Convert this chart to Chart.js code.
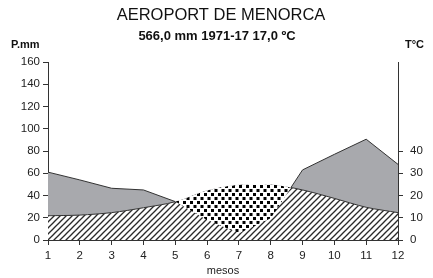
<!DOCTYPE html>
<html>
<head>
<meta charset="utf-8">
<script src="https://cdn.jsdelivr.net/npm/chart.js@4/dist/chart.umd.min.js"></script>
<style>
  html, body { margin: 0; padding: 0; background: #fff; }
  #wrap { width: 433px; height: 278px; }
</style>
</head>
<body>
<div id="wrap"><canvas id="climograma" width="433" height="278"></canvas></div>
<script>
const mesos = [1, 2, 3, 4, 5, 6, 7, 8, 9, 10, 11, 12];
const precipitacio = [61, 54, 46.5, 45, 34.5, 18, 6, 19.5, 63, 77, 90.6, 68];
const temperatura = [10.9, 11.2, 12.3, 14.5, 17.2, 22.2, 24.8, 25, 22.5, 18.7, 14.7, 12.3];
const ticksMm = [0, 20, 40, 60, 80, 100, 120, 140, 160];
const ticksTemp = [0, 10, 20, 30, 40];

const titol = 'AEROPORT DE MENORCA';
const subtitol = '566,0 mm 1971-17 17,0 ºC';

const gris = '#a8a9ad';
const linia = '#333';
const buit = 'rgba(0,0,0,0)';

// trama de ratlles diagonals
const makeHatch = () => {
    const n = 6;
    const c = document.createElement('canvas');
    c.width = n; c.height = n;
    const g = c.getContext('2d');
    g.fillStyle = '#fff';
    g.fillRect(0, 0, n, n);
    g.strokeStyle = '#2a2a2a';
    g.lineWidth = 1.3;
    for (let k = -1; k <= 1; k++) {
        g.beginPath();
        g.moveTo(k * n - 1, n + 1);
        g.lineTo(k * n + n + 1, -1);
        g.stroke();
    }
    return g.createPattern(c, 'repeat');
};

// trama de punts (periode sec)
const makeDots = () => {
    const c = document.createElement('canvas');
    c.width = 7; c.height = 8;
    const g = c.getContext('2d');
    g.fillStyle = '#fff';
    g.fillRect(0, 0, 7, 8);
    g.fillStyle = '#000';
    g.fillRect(1, 1, 3, 3);
    g.fillRect(4.5, 5, 3, 3);
    g.fillRect(-2.5, 5, 3, 3);
    return g.createPattern(c, 'repeat');
};

const hatch = makeHatch();
const dots = makeDots();
const cv = document.getElementById('climograma');
const cx = cv.getContext('2d');

// la linia nomes es veu on la precipitacio supera la temperatura (escala 2:1)
const segColor = (ctx) => {
    const i = ctx.p0DataIndex, j = ctx.p1DataIndex;
    const a = precipitacio[i] - 2 * temperatura[i];
    const b = precipitacio[j] - 2 * temperatura[j];
    if (a >= 0 && b >= 0) return linia;
    if (a < 0 && b < 0) return buit;
    const t = a / (a - b);
    const gr = cx.createLinearGradient(ctx.p0.x, 0, ctx.p1.x, 0);
    if (a >= 0) {
        gr.addColorStop(0, linia); gr.addColorStop(t, linia);
        gr.addColorStop(t, buit); gr.addColorStop(1, buit);
    } else {
        gr.addColorStop(0, buit); gr.addColorStop(t, buit);
        gr.addColorStop(t, linia); gr.addColorStop(1, linia);
    }
    return gr;
};

const textos = {
    id: 'textos',
    afterDraw(chart) {
        const g = chart.ctx;
        g.save();
        g.fillStyle = '#111';
        g.textAlign = 'center';
        g.textBaseline = 'middle';
        g.font = '16.5px "Liberation Sans", Arial, sans-serif';
        g.fillText(titol, 221, 15);
        g.font = 'bold 13px "Liberation Sans", Arial, sans-serif';
        g.fillText(subtitol, 217, 36);
        g.font = 'bold 11px "Liberation Sans", Arial, sans-serif';
        g.textAlign = 'left';
        g.fillText('P.mm', 11, 45);
        g.fillText('T°C', 405, 45);
        g.restore();
    }
};

const tickFont = { family: '"Liberation Sans", Arial, sans-serif', size: 11.5 };

new Chart(cv, {
    type: 'line',
    data: {
        labels: mesos,
        datasets: [
            // linies de contorn
            {
                label: 'Precipitació (línia)',
                data: precipitacio,
                yAxisID: 'y',
                borderWidth: 1,
                pointRadius: 0,
                tension: 0,
                fill: false,
                segment: { borderColor: segColor },
                order: 0
            },
            {
                label: 'Temperatura (línia)',
                data: temperatura,
                yAxisID: 'y1',
                borderWidth: 1,
                pointRadius: 0,
                tension: 0.3,
                fill: false,
                segment: { borderColor: segColor },
                order: 0
            },
            // superfícies
            {
                label: 'Precipitació',
                data: precipitacio,
                yAxisID: 'y',
                borderWidth: 0,
                borderColor: buit,
                pointRadius: 0,
                tension: 0,
                fill: { target: 3, above: gris, below: dots },
                order: 1
            },
            {
                label: 'Temperatura',
                data: temperatura,
                yAxisID: 'y1',
                borderWidth: 0,
                borderColor: buit,
                pointRadius: 0,
                tension: 0.3,
                backgroundColor: hatch,
                fill: 'origin',
                order: 2
            }
        ]
    },
    options: {
        responsive: false,
        animation: false,
        layout: { padding: { top: 62, left: 0, right: 0, bottom: 0 } },
        plugins: { legend: { display: false }, tooltip: { enabled: false } },
        scales: {
            x: {
                type: 'category',
                offset: false,
                grid: { drawOnChartArea: false, drawTicks: true, tickLength: 5, color: linia },
                border: { color: linia, width: 1 },
                ticks: { color: '#222', font: tickFont, padding: 4, maxRotation: 0, autoSkip: false },
                title: { display: true, text: 'mesos', color: '#222', font: { family: tickFont.family, size: 11 }, padding: { top: 0, bottom: 0 } },
                afterFit: (s) => { s.height = 38; }
            },
            y: {
                position: 'left',
                min: 0, max: 160,
                afterBuildTicks: (s) => { s.ticks = ticksMm.map(v => ({ value: v })); },
                grid: { drawOnChartArea: false, tickLength: 5, color: linia },
                border: { color: linia, width: 1 },
                ticks: { color: '#222', font: tickFont, padding: 3 },
                afterFit: (s) => { s.width = 48; }
            },
            y1: {
                position: 'right',
                min: 0, max: 80,
                afterBuildTicks: (s) => { s.ticks = ticksTemp.map(v => ({ value: v })); },
                grid: { drawOnChartArea: false, tickLength: 5, color: linia },
                border: { color: linia, width: 1 },
                ticks: { color: '#222', font: tickFont, padding: 7 },
                afterFit: (s) => { s.width = 35; }
            }
        }
    },
    plugins: [textos]
});
</script>
</body>
</html>
